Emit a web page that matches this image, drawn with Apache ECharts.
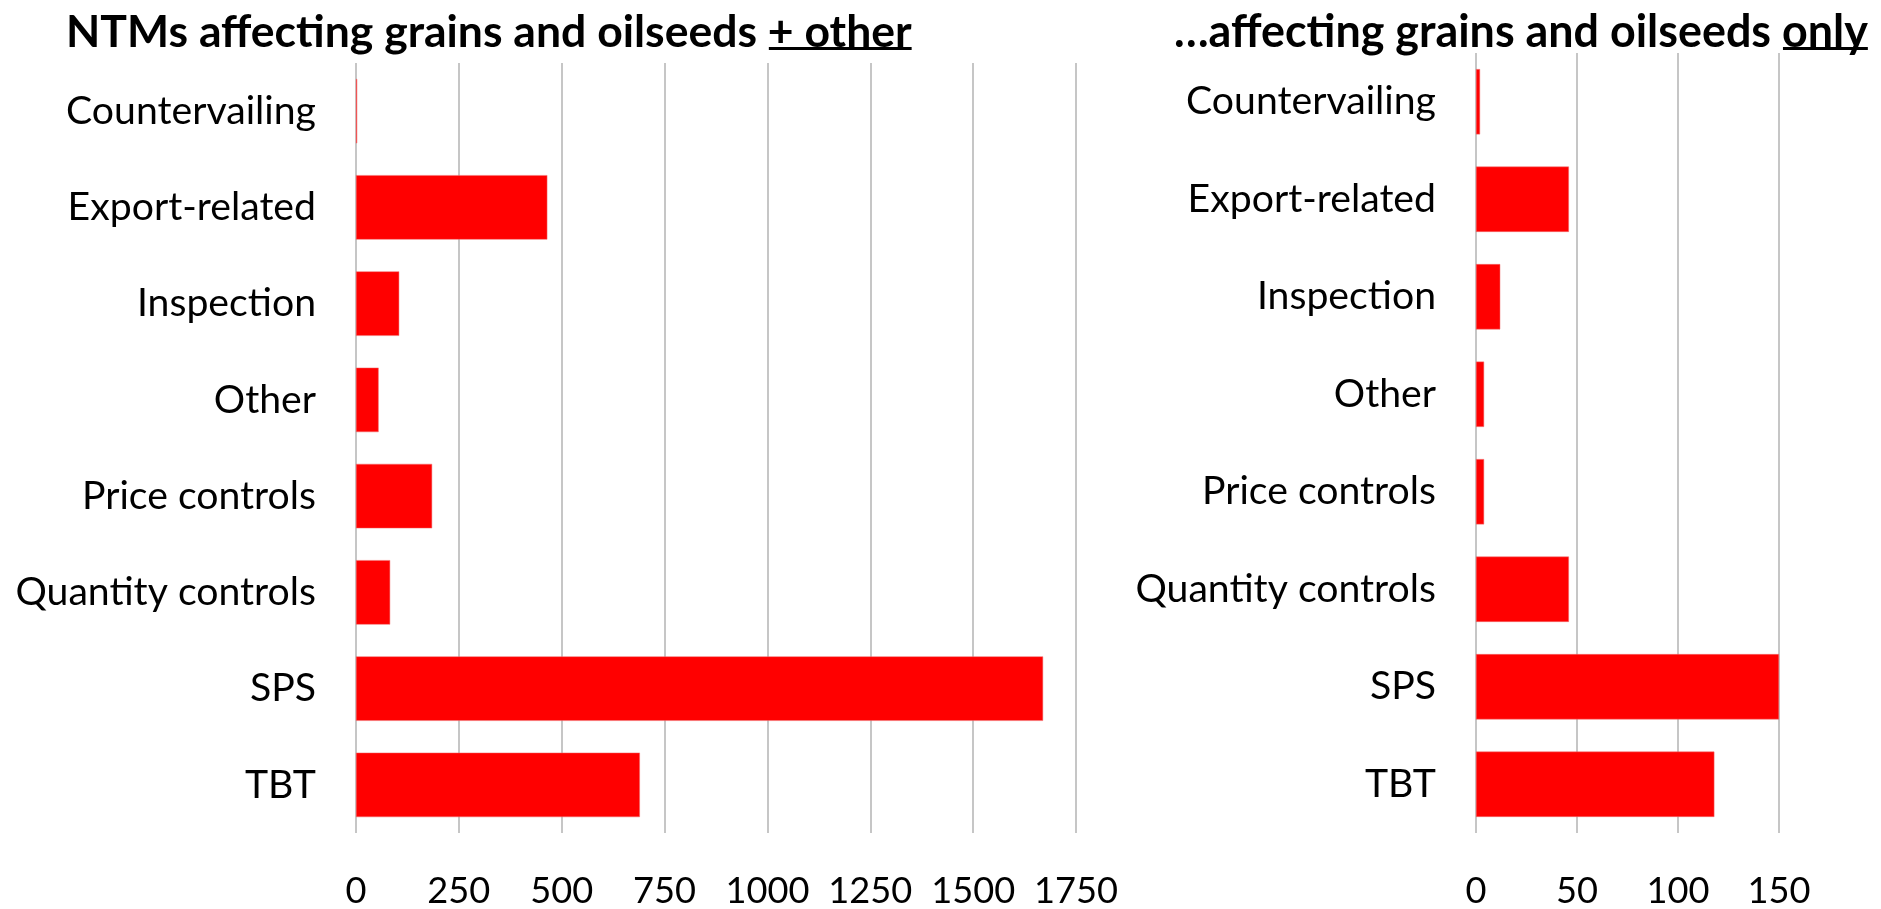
<!DOCTYPE html>
<html>
<head>
<meta charset="utf-8">
<script src="https://cdn.jsdelivr.net/npm/echarts@6/dist/echarts.min.js"></script>
<style>
  html, body { margin: 0; padding: 0; background: #fff; }
  #box { width: 1881px; height: 909px; }
</style>
</head>
<body>
<div id="box"></div>
<script>
// categories (top to bottom)
const categories = ['Countervailing', 'Export-related', 'Inspection', 'Other',
  'Price controls', 'Quantity controls', 'SPS', 'TBT'];
// NTMs affecting grains and oilseeds + other
const allValues = [3, 465, 105, 55, 185, 83, 1670, 690];
// ...affecting grains and oilseeds only
const onlyValues = [2, 46, 12, 4, 4, 46, 150, 118];
// tick labels
const leftTicks = [0, 250, 500, 750, 1000, 1250, 1500, 1750];
const rightTicks = [0, 50, 100, 150];
// titles: plain part + underlined part
const leftTitle = ['NTMs affecting grains and oilseeds ', '+ other'];
const rightTitle = ['\u2026affecting grains and oilseeds ', 'only'];

const FONT = 'Lato';
const ctx = document.createElement('canvas').getContext('2d');
function textWidth(str, font) {
  ctx.font = font;
  return ctx.measureText(str).width;
}
// fit the font sizes to the widths of the original (Calibri) text
const labelSize = Math.round(40 * 250 / textWidth('Countervailing', '40px ' + FONT) * 10) / 10;
const tickSize = Math.round(40 * 84 / textWidth('1750', '40px ' + FONT) * 10) / 10;
const leftTitleSize = 40 * 846 / textWidth(leftTitle.join(''), 'bold 40px ' + FONT);
const rightTitleSize = 40 * 694 / textWidth(rightTitle.join(''), 'bold 40px ' + FONT);

function titleGraphic(parts, x, size) {
  const font = 'bold ' + size + 'px ' + FONT;
  const pre = textWidth(parts[0], font);
  const full = textWidth(parts.join(''), font);
  return [{
    type: 'text',
    left: x, top: 10,
    style: { text: parts.join(''), fill: '#000', font: font }
  }, {
    type: 'rect',
    shape: { x: x + pre + 1, y: 47, width: full - pre - 1, height: 3 },
    style: { fill: '#000' }
  }];
}

const myecharts = echarts.init(document.getElementById('box'));

const axisLabelX = {
  color: '#000', fontFamily: FONT, fontSize: tickSize, margin: 40,
  formatter: function (v) { return String(v); }
};
const axisLabelY = { color: '#000', fontFamily: FONT, fontSize: labelSize, margin: 40 };
const splitLine = { show: true, lineStyle: { color: '#c6c6c6', width: 2 } };

const option = {
  animation: false,
  backgroundColor: '#fff',
  graphic: titleGraphic(leftTitle, 66, leftTitleSize)
    .concat(titleGraphic(rightTitle, 1174, rightTitleSize)),
  grid: [
    { left: 356, width: 720, top: 63, height: 770 },
    { left: 1476, width: 303, top: 53, height: 785 }
  ],
  xAxis: [
    {
      type: 'value', gridIndex: 0,
      min: leftTicks[0], max: leftTicks[leftTicks.length - 1], interval: leftTicks[1] - leftTicks[0],
      axisLine: { show: false }, axisTick: { show: false },
      axisLabel: axisLabelX, splitLine: splitLine
    },
    {
      type: 'value', gridIndex: 1,
      min: rightTicks[0], max: rightTicks[rightTicks.length - 1], interval: rightTicks[1] - rightTicks[0],
      axisLine: { show: false }, axisTick: { show: false },
      axisLabel: axisLabelX, splitLine: splitLine
    }
  ],
  yAxis: [
    {
      type: 'category', gridIndex: 0, data: categories, inverse: true,
      axisLine: { show: false }, axisTick: { show: false },
      axisLabel: axisLabelY
    },
    {
      type: 'category', gridIndex: 1, data: categories, inverse: true,
      axisLine: { show: false }, axisTick: { show: false },
      axisLabel: axisLabelY
    }
  ],
  series: [
    {
      name: 'grains and oilseeds + other', type: 'bar',
      xAxisIndex: 0, yAxisIndex: 0, data: allValues,
      barCategoryGap: '33%',
      itemStyle: { color: '#ff0000', borderColor: '#f07070', borderWidth: 0.5 }
    },
    {
      name: 'grains and oilseeds only', type: 'bar',
      xAxisIndex: 1, yAxisIndex: 1, data: onlyValues,
      barCategoryGap: '33%',
      itemStyle: { color: '#ff0000', borderColor: '#f07070', borderWidth: 0.5 }
    }
  ]
};
myecharts.setOption(option);

window.onresize = function () {
  myecharts.resize();
};
</script>
</body>
</html>
